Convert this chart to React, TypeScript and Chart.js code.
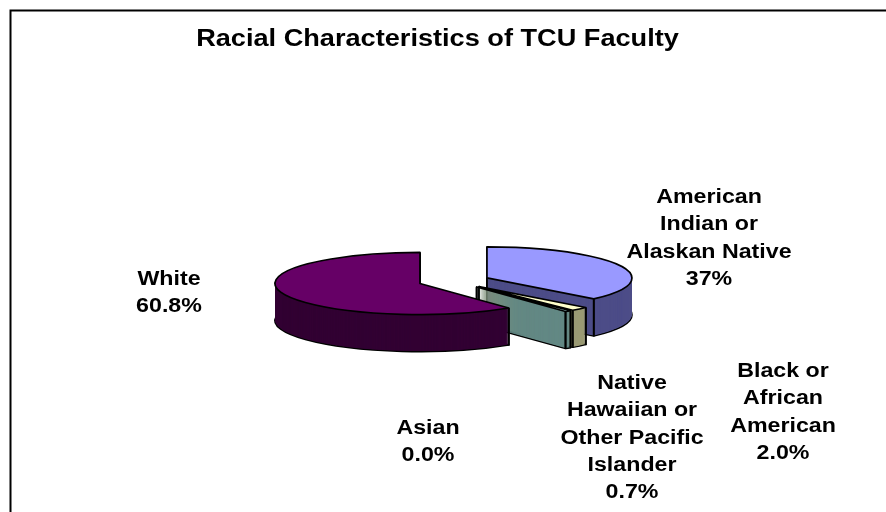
import { useEffect, useRef } from 'react';
import { Chart, registerables } from 'chart.js';

Chart.register(...registerables);

// ---- data ----
const categories = [
  'American Indian or Alaskan Native',
  'Asian',
  'Black or African American',
  'Native Hawaiian or Other Pacific Islander',
  'White',
];
const labelLines = [
  ['American', 'Indian or', 'Alaskan Native'],
  ['Asian'],
  ['Black or', 'African', 'American'],
  ['Native', 'Hawaiian or', 'Other Pacific', 'Islander'],
  ['White'],
];
const values = [37, 0.0, 2.0, 0.7, 60.8];
const valueDecimals = [0, 1, 1, 1, 1];
const titleText = 'Racial Characteristics of TCU Faculty';

// ---- styles / layout ----
const topColors = ['#9999FF', '#993366', '#FFFFCC', '#CCFFFF', '#660066'];
const sideColors = ['#4D4D88', '#4D1A33', '#9A9A74', '#638884', '#320033'];
// label anchors relative to pie centre (x centre, first baseline)
const labelAnchors = [
  [255, -78],
  [-26, 153],
  [329, 96],
  [178, 108],
  [-285, 4],
];
const LINE_H = 27.3;
const K = 0.214; // vertical squash of the pie plane
const DEPTH = 37; // extrusion height (px)
const STEP = 0.5; // extrusion layer step (px)
const EXPLODE = 36; // explosion distance (px, in plane)
const FONT = "'Liberation Sans', Arial, Helvetica, sans-serif";

function planeTransform(ctx: CanvasRenderingContext2D, cx: number, cy: number, d: number, ex: number, ey: number) {
  ctx.translate(cx, cy + d);
  ctx.scale(1, K);
  ctx.translate(-cx + ex, -cy + ey);
}

const pie3d = {
  id: 'pie3d',
  beforeDraw(chart: any) {
    const ctx: CanvasRenderingContext2D = chart.ctx;
    ctx.save();
    ctx.strokeStyle = '#000';
    ctx.lineWidth = 2;
    ctx.strokeRect(10.5, 10.5, chart.width + 40, chart.height + 40);
    ctx.restore();
  },
  beforeDatasetsDraw(chart: any) {
    const ctx: CanvasRenderingContext2D = chart.ctx;
    const arcs = chart.getDatasetMeta(0).data as any[];
    if (!arcs.length) return false;
    const cx = arcs[0].x;
    const cy = arcs[0].y;
    const info = arcs.map((el, i) => {
      const mid = (el.startAngle + el.endAngle) / 2;
      return {
        el,
        i,
        ex: Math.cos(mid) * EXPLODE,
        ey: Math.sin(mid) * EXPLODE,
        visible: el.circumference > 0,
      };
    });
    const sideEls = info.map(({ el, i }) => {
      const p = Object.create(el);
      p.options = { ...el.options, backgroundColor: sideColors[i], borderWidth: 0 };
      return p;
    });
    const outline = (a: any, d: number) => {
      ctx.save();
      planeTransform(ctx, cx, cy, d, a.ex, a.ey);
      ctx.beginPath();
      ctx.moveTo(cx, cy);
      ctx.arc(cx, cy, a.el.outerRadius, a.el.startAngle, a.el.endAngle);
      ctx.closePath();
      ctx.restore();
      ctx.save();
      ctx.lineWidth = 1.7;
      ctx.lineJoin = 'round';
      ctx.strokeStyle = '#000';
      ctx.stroke();
      ctx.restore();
    };
    const corners = (a: any, d: number) => {
      const R = a.el.outerRadius;
      const px = cx + a.ex;
      const py = cy + a.ey;
      const pts = [
        [px, py],
        [px + R * Math.cos(a.el.startAngle), py + R * Math.sin(a.el.startAngle)],
        [px + R * Math.cos(a.el.endAngle), py + R * Math.sin(a.el.endAngle)],
      ];
      ctx.save();
      ctx.fillStyle = '#000';
      pts.forEach(([x, y]) => {
        const sy = cy + (y - cy) * K + d;
        ctx.fillRect(x - 0.9, sy - 0.6, 1.8, 1.2);
      });
      ctx.restore();
    };

    for (let d = DEPTH; d >= STEP; d -= STEP) {
      info.forEach((a) => {
        if (!a.visible) return;
        ctx.save();
        planeTransform(ctx, cx, cy, d, a.ex, a.ey);
        sideEls[a.i].draw(ctx);
        ctx.restore();
      });
      if (d === DEPTH) info.forEach((a) => a.visible && outline(a, d));
      info.forEach((a) => a.visible && corners(a, d));
    }
    info.forEach((a) => {
      if (!a.visible) return;
      ctx.save();
      planeTransform(ctx, cx, cy, 0, a.ex, a.ey);
      a.el.draw(ctx);
      ctx.restore();
    });
    info.forEach((a) => a.visible && outline(a, 0));
    return false;
  },
  afterDraw(chart: any) {
    const ctx: CanvasRenderingContext2D = chart.ctx;
    const arcs = chart.getDatasetMeta(0).data as any[];
    const cx = arcs[0].x;
    const cy = arcs[0].y;
    ctx.save();
    ctx.fillStyle = '#000';
    ctx.textAlign = 'center';
    ctx.textBaseline = 'alphabetic';
    // title
    ctx.save();
    ctx.font = `bold 23px ${FONT}`;
    ctx.translate(437.5, 46);
    ctx.scale(1.18, 1);
    ctx.fillText(titleText, 0, 0);
    ctx.restore();
    // data labels
    ctx.font = `bold 20px ${FONT}`;
    categories.forEach((_, i) => {
      const lines = [...labelLines[i], `${values[i].toFixed(valueDecimals[i])}%`];
      const [dx, dy] = labelAnchors[i];
      lines.forEach((ln, j) => {
        ctx.save();
        ctx.translate(cx + dx, cy + dy + j * LINE_H);
        ctx.scale(1.16, 1);
        ctx.fillText(ln, 0, 0);
        ctx.restore();
      });
    });
    ctx.restore();
  },
};

export default function App() {
  const ref = useRef<HTMLCanvasElement>(null);
  useEffect(() => {
    if (!ref.current) return;
    const chart = new Chart(ref.current, {
      type: 'pie',
      data: {
        labels: categories,
        datasets: [
          {
            data: values,
            backgroundColor: topColors,
            borderWidth: 0,
            offset: 0,
          },
        ],
      },
      options: {
        animation: false,
        responsive: false,
        radius: 145,
        layout: { padding: { left: 254, right: 232, top: 81, bottom: 31 } },
        plugins: {
          legend: { display: false },
          title: { display: false },
          tooltip: { enabled: false },
        },
        events: [],
      } as any,
      plugins: [pie3d as any],
    });
    return () => chart.destroy();
  }, []);
  return (
    <div style={{ position: 'fixed', left: 0, top: 0, width: 886, height: 512, background: '#fff' }}>
      <canvas ref={ref} width={886} height={512} style={{ display: 'block' }} />
    </div>
  );
}
